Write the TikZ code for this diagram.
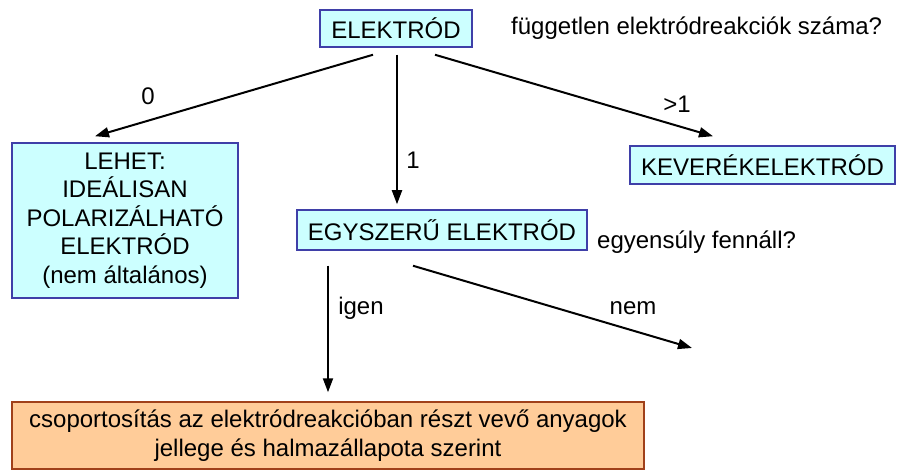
\documentclass[tikz,border=0pt]{standalone}
\usepackage{fontspec}
\setmainfont{Liberation Sans}
\usetikzlibrary{arrows.meta}
\definecolor{boxcyan}{HTML}{CCFFFF}
\definecolor{boxblue}{HTML}{3F3FA8}
\definecolor{boxorange}{HTML}{FFCC99}
\definecolor{boxbrown}{HTML}{A0401A}
\begin{document}
\begin{tikzpicture}[x=1pt,y=-1pt,
  every node/.style={font=\fontsize{24}{28.5}\selectfont, inner sep=0pt},
  cbox/.style={draw=boxblue, fill=boxcyan, line width=1.5pt, align=center},
  obox/.style={draw=boxbrown, fill=boxorange, line width=1.5pt, align=center},
  conn/.style={line width=2pt, -{Triangle[length=14pt,width=10pt]}},
  lbl/.style={}]
\useasboundingbox[fill=white] (0,0) rectangle (897,470);
\node[cbox, minimum width=152pt, minimum height=37pt] (elek) at (396,28.5) {ELEKTRÓD};
\node[cbox, minimum width=226pt, minimum height=155pt] (lehet) at (125,220.5) {LEHET:\\IDEÁLISAN\\POLARIZÁLHATÓ\\ELEKTRÓD\\(nem általános)};
\node[cbox, minimum width=265pt, minimum height=38pt] (kever) at (762.5,165) {KEVERÉKELEKTRÓD};
\node[cbox, minimum width=290pt, minimum height=40pt] (egysz) at (442,230) {EGYSZERŰ ELEKTRÓD};
\node[obox, minimum width=632pt, minimum height=67pt] (csop) at (328,435.5) {csoportosítás az elektródreakcióban részt vevő anyagok\\jellege és halmazállapota szerint};
\node[lbl, anchor=west] (q1) at (511,28) {független elektródreakciók száma?};
\node[lbl, anchor=west] (q2) at (597,242) {egyensúly fennáll?};
\node[lbl] (l0) at (148,96) {0};
\node[lbl] (l1) at (413,160) {1};
\node[lbl] (lg1) at (677,104) {>1};
\node[lbl] (ligen) at (361,308) {igen};
\node[lbl] (lnem) at (633,308) {nem};
\coordinate (nemend) at (692,348);
\draw[conn] ([xshift=-23pt,yshift=-7pt]elek.south) -- ([xshift=-30pt,yshift=6pt]lehet.north);
\draw[conn] ([xshift=1pt,yshift=-7pt]elek.south) -- ([xshift=-45pt,yshift=5pt]egysz.north);
\draw[conn] ([xshift=39pt,yshift=-7pt]elek.south) -- ([xshift=-49.5pt,yshift=9pt]kever.north);
\draw[conn] ([xshift=-114pt,yshift=-15pt]egysz.south) -- ([yshift=9pt]csop.north);
\draw[conn] ([xshift=-29pt,yshift=-15pt]egysz.south) -- (nemend);
\end{tikzpicture}
\end{document}
